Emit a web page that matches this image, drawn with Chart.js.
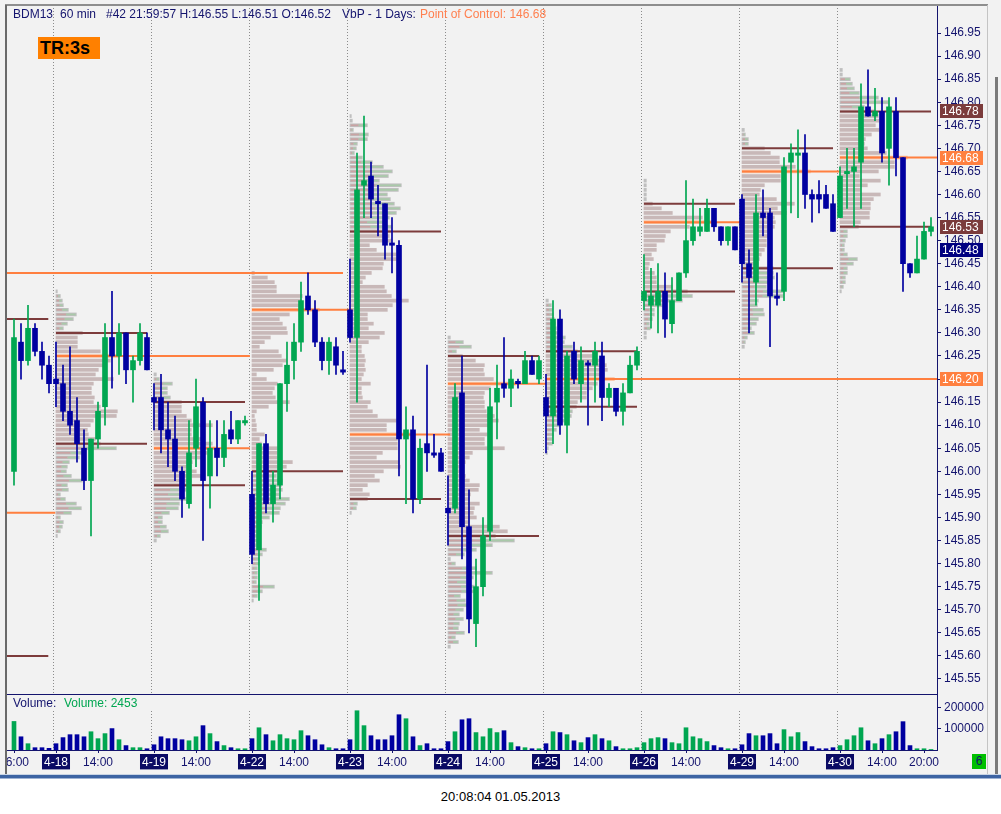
<!DOCTYPE html>
<html>
<head>
<meta charset="utf-8">
<script src="https://cdn.jsdelivr.net/npm/chart.js@4.4.1/dist/chart.umd.min.js"></script>
<style>
body{margin:0;width:1001px;height:814px;background:#fff;overflow:hidden;font-family:"Liberation Sans",Arial,sans-serif}
#panel{position:absolute;left:0;top:0;width:1001px;height:775px;background:#f2f2f2}
#wrap{position:absolute;left:0;top:0;width:1001px;height:775px}
.t{position:absolute;font-size:12px;line-height:14px;white-space:pre;color:#14146e}
.ln{position:absolute}
</style>
</head>
<body>
<div id="panel"></div>
<div id="wrap"><canvas id="chart"></canvas></div>

<div class="t" style="left:13px;top:7px">BDM13</div>
<div class="t" style="left:60px;top:7px">60 min</div>
<div class="t" style="left:106px;top:7px">#42 21:59:57 H:146.55 L:146.51 O:146.52</div>
<div class="t" style="left:342px;top:7px">VbP - 1 Days:</div>
<div class="t" style="left:420px;top:7px;color:#ff8050">Point of Control: 146.68</div>
<div class="t" style="left:38px;top:37px;width:62px;height:22px;background:#ff8000;color:#000;font-weight:bold;font-size:18px;line-height:22px;padding-left:2px;box-sizing:border-box">TR:3s</div>
<div class="t" style="left:13px;top:696px">Volume:</div>
<div class="t" style="left:64px;top:696px;color:#00a651">Volume: 2453</div>
<div class="t" style="left:972px;top:754px;width:14px;height:15px;background:#00c000;text-align:center;line-height:15px">6</div>
<div class="t" style="left:0;width:1001px;top:790px;text-align:center;color:#000;font-size:13px">20:08:04 01.05.2013</div>

<div class="ln" style="left:5px;top:4px;width:983px;height:2px;background:#8e8e8e"></div>
<div class="ln" style="left:5px;top:5px;width:2px;height:769px;background:#6a6a6a"></div>
<div class="ln" style="left:987px;top:5px;width:1px;height:769px;background:#c4c4c4"></div>
<div class="ln" style="left:995px;top:77px;width:3px;height:697px;background:#7a7a7a"></div>
<div class="ln" style="left:0;top:774px;width:1001px;height:1px;background:#c8d4e4"></div>
<div class="ln" style="left:0;top:775px;width:1001px;height:3px;background:#3d64a3"></div>
<div class="ln" style="left:0;top:778px;width:1001px;height:1px;background:#9fb3d3"></div>

<script>
// hourly bars, 08:00-21:00, index 0 = 4-17 16:00
const dayLabels = ['4-18', '4-19', '4-22', '4-23', '4-24', '4-25', '4-26', '4-29', '4-30'];
const dayStart = [6, 20, 34, 48, 62, 76, 90, 104, 118];

const opens = [
  146.00, 146.28, 146.24, 146.31, 146.26, 146.23,
  146.20, 146.19, 146.13, 146.11, 146.05, 145.98, 146.07, 146.14, 146.29, 146.25, 146.30, 146.22, 146.24, 146.29,
  146.16, 146.16, 146.09, 146.07, 146.00, 145.93, 146.05, 146.15, 145.99, 146.05, 146.03, 146.09, 146.07, 146.105,
  145.95, 145.83, 146.06, 145.93, 145.97, 146.19, 146.24, 146.28, 146.38, 146.35, 146.28, 146.24, 146.27, 146.22,
  146.35, 146.29, 146.62, 146.64, 146.585, 146.58, 146.495, 146.49, 146.07, 146.09, 145.94, 146.06, 146.04, 146.04,
  145.92, 145.92, 146.17, 145.88, 145.67, 145.75, 145.87, 146.15, 146.19, 146.18, 146.195, 146.19, 146.24, 146.20,
  146.16, 146.12, 146.33, 146.10, 146.26, 146.19, 146.235, 146.23, 146.25, 146.16, 146.18, 146.13, 146.17, 146.23,
  146.37, 146.36, 146.36, 146.39, 146.32, 146.37, 146.43, 146.50, 146.52, 146.52, 146.57, 146.53, 146.50, 146.53,
  146.59, 146.45, 146.41, 146.56, 146.56, 146.38, 146.39, 146.67, 146.685, 146.69, 146.60, 146.60, 146.60, 146.58,
  146.55, 146.645, 146.65, 146.67, 146.79, 146.77, 146.78, 146.70, 146.78, 146.68, 146.45, 146.43, 146.46, 146.52
];
const highs = [
  146.33, 146.32, 146.36, 146.32, 146.28, 146.25,
  146.28, 146.23, 146.27, 146.16, 146.09, 146.07, 146.15, 146.32, 146.39, 146.32, 146.30, 146.25, 146.32, 146.30,
  146.19, 146.21, 146.15, 146.12, 146.01, 146.11, 146.20, 146.16, 146.11, 146.11, 146.11, 146.13, 146.11, 146.12,
  146.00, 146.06, 146.08, 146.00, 146.19, 146.28, 146.32, 146.41, 146.43, 146.37, 146.29, 146.29, 146.29, 146.26,
  146.46, 146.69, 146.77, 146.67, 146.62, 146.58, 146.55, 146.50, 146.14, 146.12, 146.07, 146.23, 146.08, 146.05,
  145.99, 146.19, 146.25, 145.96, 145.81, 145.90, 146.18, 146.23, 146.29, 146.22, 146.20, 146.26, 146.25, 146.25,
  146.21, 146.37, 146.35, 146.26, 146.28, 146.27, 146.24, 146.28, 146.28, 146.19, 146.18, 146.19, 146.25, 146.27,
  146.47, 146.44, 146.45, 146.43, 146.42, 146.43, 146.63, 146.59, 146.57, 146.59, 146.57, 146.53, 146.53, 146.53,
  146.60, 146.48, 146.60, 146.61, 146.57, 146.43, 146.68, 146.71, 146.74, 146.73, 146.61, 146.63, 146.62, 146.60,
  146.66, 146.70, 146.70, 146.84, 146.87, 146.83, 146.81, 146.81, 146.81, 146.68, 146.45, 146.51, 146.54, 146.55
];
const lows = [
  145.97, 146.20, 146.23, 146.25, 146.20, 146.17,
  146.14, 146.11, 146.08, 146.02, 145.96, 145.86, 146.05, 146.10, 146.18, 146.21, 146.19, 146.15, 146.23, 146.22,
  146.09, 146.04, 146.01, 145.98, 145.90, 145.92, 146.01, 145.85, 145.92, 145.99, 146.01, 146.06, 146.06, 146.10,
  145.80, 145.72, 145.91, 145.89, 145.94, 146.13, 146.20, 146.26, 146.34, 146.27, 146.22, 146.21, 146.21, 146.21,
  146.28, 146.15, 146.55, 146.55, 146.51, 146.46, 146.43, 145.99, 145.93, 145.91, 145.93, 146.00, 146.03, 146.00,
  145.84, 145.91, 145.81, 145.65, 145.62, 145.73, 145.85, 146.07, 146.16, 146.14, 146.18, 146.19, 146.21, 146.19,
  146.04, 146.06, 146.08, 146.04, 146.19, 146.15, 146.10, 146.15, 146.11, 146.14, 146.12, 146.10, 146.17, 146.22,
  146.35, 146.31, 146.30, 146.29, 146.30, 146.37, 146.42, 146.49, 146.51, 146.52, 146.52, 146.49, 146.49, 146.48,
  146.41, 146.30, 146.36, 146.51, 146.27, 146.36, 146.37, 146.56, 146.55, 146.57, 146.54, 146.56, 146.57, 146.52,
  146.55, 146.57, 146.53, 146.57, 146.77, 146.76, 146.67, 146.62, 146.64, 146.39, 146.42, 146.43, 146.46, 146.51
];
const closes = [
  146.29, 146.24, 146.31, 146.26, 146.23, 146.19,
  146.19, 146.13, 146.10, 146.06, 145.98, 146.07, 146.13, 146.29, 146.25, 146.30, 146.22, 146.24, 146.30, 146.22,
  146.15, 146.09, 146.07, 146.00, 145.94, 146.04, 146.14, 145.98, 146.05, 146.03, 146.08, 146.07, 146.11, 146.11,
  145.82, 146.06, 145.93, 145.97, 146.19, 146.23, 146.28, 146.37, 146.35, 146.28, 146.24, 146.28, 146.23, 146.215,
  146.29, 146.61, 146.63, 146.59, 146.58, 146.49, 146.49, 146.07, 146.09, 145.94, 146.05, 146.04, 146.035, 146.00,
  145.91, 146.16, 145.88, 145.68, 145.75, 145.86, 146.14, 146.18, 146.18, 146.20, 146.19, 146.24, 146.21, 146.24,
  146.12, 146.33, 146.10, 146.25, 146.20, 146.24, 146.23, 146.26, 146.16, 146.18, 146.13, 146.17, 146.23, 146.26,
  146.39, 146.38, 146.39, 146.33, 146.37, 146.43, 146.50, 146.53, 146.53, 146.57, 146.53, 146.50, 146.53, 146.48,
  146.45, 146.42, 146.56, 146.55, 146.38, 146.375, 146.66, 146.69, 146.69, 146.60, 146.59, 146.59, 146.57, 146.52,
  146.64, 146.65, 146.66, 146.79, 146.77, 146.78, 146.69, 146.79, 146.68, 146.45, 146.43, 146.46, 146.52, 146.53
];
const volumes = [
  136000, 63000, 30000, 11000, 11000, 8000,
  30000, 59000, 73000, 73000, 63000, 87000, 54000, 78000, 102000, 49000, 21000, 11000, 11000, 6000,
  25000, 63000, 54000, 54000, 49000, 44000, 63000, 116000, 78000, 40000, 21000, 11000, 6000, 6000,
  54000, 106000, 73000, 44000, 73000, 54000, 49000, 92000, 68000, 49000, 25000, 11000, 6000, 6000,
  49000, 187000, 116000, 68000, 49000, 49000, 68000, 168000, 149000, 63000, 21000, 30000, 6000, 6000,
  40000, 87000, 144000, 149000, 83000, 63000, 102000, 83000, 92000, 35000, 16000, 11000, 6000, 6000,
  30000, 87000, 83000, 73000, 44000, 35000, 59000, 73000, 54000, 44000, 16000, 6000, 6000, 11000,
  35000, 54000, 59000, 54000, 35000, 30000, 106000, 63000, 54000, 40000, 21000, 11000, 6000, 6000,
  25000, 78000, 68000, 68000, 78000, 30000, 97000, 63000, 83000, 40000, 16000, 6000, 6000, 11000,
  21000, 49000, 68000, 106000, 44000, 30000, 54000, 73000, 87000, 135000, 21000, 6000, 6000, 2453
];

// volume-at-price levels per day
const vaHigh = [146.30, 146.15, 146.43, 146.52, 146.25, 146.26, 146.58, 146.70, 146.78];
const pocLevel = [146.25, 146.05, 146.35, 146.08, 146.19, 146.20, 146.54, 146.65, 146.68];
const vaLow = [146.06, 145.97, 146.00, 145.94, 145.86, 146.14, 146.39, 146.44, 146.53];
const pocEnd = [33.7, 33.7, 48.3, 62.3, 76, 131.9, 103.9, 118, 131.9];
// levels carried in from the days left of the screen
const priorPoc = [146.43, 145.91];
const priorPocEnd = [47, 5.9];
const priorVa = [146.33, 145.60];
const priorVaEnd = [4.9, 4.9];

// profile rows, one per 0.01 from the day's high down
const profileTop = [146.39, 146.21, 146.43, 146.77, 146.29, 146.37, 146.63, 146.74, 146.87];
const prof0418 = [2,5,7,8,13,21,18,12,8,27, 22,22,22,45,64,55,48,43,40,58, 38,36,36,39,38,45,62,61,38,35,
  32,33,40,45,61,30,24,14,12,11, 16,27,12,13,5,10,21,26,16,5, 8,7,5,2];
const prof0419 = [3,6,19,14,14,17,28,28,28,33, 38,59,38,38,49,59,62,54,48,39, 38,43,49,38,33,33,29,33,26,25,
  16,9,9,13,15,7,3];
const prof0422 = [3,16,23,25,25,51,50,50,68,38, 28,31,35,36,19,13,8,27,30,35, 31,22,5,15,26,23,21,24,38,17,
  5,3,4,5,5,13,8,10,26,26, 26,41,35,26,25,31,30,31,28,38, 34,29,28,18,11,10,8,6,6,5,
  15,11,8,8,6,6,6,5,23,11, 6,2];
const prof0423 = [2,3,18,4,19,18,8,7,5,13, 23,34,43,39,30,52,49,38,41,45, 51,47,40,35,42,41,40,42,20,27,
  47,47,34,33,22,16,13,35,37,42, 59,43,38,18,18,24,19,35,30,19, 12,12,15,16,15,16,14,12,21,12,
  12,13,21,18,23,28,47,37,37,62, 48,48,48,33,27,50,51,34,25,30, 18,13,20,18,8,7,2];
const prof0424 = [3,16,24,9,15,28,37,36,37,46, 68,43,37,36,37,37,39,47,51,43, 32,40,37,37,57,25,22,18,17,17,
  18,22,32,31,23,22,32,27,26,29, 22,52,60,48,67,45,29,17,3,8, 29,45,26,19,27,28,13,18,20,16,
  12,16,12,11,17,8,11,3];
const prof0425 = [3,6,7,8,9,10,11,12,20,19, 27,32,47,56,61,62,59,69,52,47, 41,41,32,31,27,26,19,14,11,8,
  7,7,3,2];
const prof0426 = [3,3,3,3,3,9,18,29,59,69, 46,27,22,21,13,13,8,10,6,5, 11,13,13,29,44,49,39,19,11,11,
  9,6,7,3,3];
const prof0429 = [3,4,7,7,23,29,38,38,54,69, 39,39,23,19,18,35,53,36,45,33, 34,33,27,27,25,25,23,20,18,17,
  32,32,33,27,25,43,42,17,16,22, 23,17,15,10,13,6,4,3];
const prof0430 = [3,3,11,13,15,20,39,49,25,35, 39,40,36,40,32,26,25,28,47,68, 55,55,39,20,41,28,21,41,34,31,
  31,30,30,21,19,8,8,6,5,5, 8,18,14,8,8,6,6,4,2];
const profiles = [prof0418, prof0419, prof0422, prof0423, prof0424, prof0425, prof0426, prof0429, prof0430];

const priceTicks = [145.55, 145.60, 145.65, 145.70, 145.75, 145.80, 145.85, 145.90, 145.95, 146.00,
  146.05, 146.10, 146.15, 146.20, 146.25, 146.30, 146.35, 146.40, 146.45, 146.50,
  146.55, 146.60, 146.65, 146.70, 146.75, 146.80, 146.85, 146.90, 146.95];
const volumeTicks = [100000, 200000];
const markerPrices = [146.78, 146.68, 146.53, 146.48, 146.20];
const markerColors = ['#7b3b3b', '#ff8040', '#7b3b3b', '#000080', '#ff8040'];

const NAVY = '#14146e';
const UP = '#00a651';
const DOWN = '#0000a0';
const FONT = '"Liberation Sans", Arial, sans-serif';
const profileUnitsPerBar = 7;

// x tick positions and their labels
const xTickLabels = {0: '16:00'};
dayStart.forEach((s, k) => { xTickLabels[s] = dayLabels[k]; xTickLabels[s + 6] = '14:00'; });
xTickLabels[130] = '20:00';
const isDateTick = v => dayStart.includes(v);

const colors = opens.map((o, i) => closes[i] > o ? UP : DOWN);
const bodies = opens.map((o, i) => ({x: i, y: [o, closes[i]]}));
const wicks = lows.map((l, i) => ({x: i, y: [l, highs[i]]}));
const vols = volumes.map((v, i) => ({x: i, y: v}));

function segments(levels, starts, ends) {
  const pts = [];
  levels.forEach((v, i) => {
    pts.push({x: starts[i], y: v}, {x: ends[i], y: v}, {x: ends[i], y: null});
  });
  return pts;
}
const dayEnd = dayStart.map(s => s + 13);
const brownPts = segments(priorVa, [-1, -1], priorVaEnd)
  .concat(segments(vaHigh, dayStart, dayEnd), segments(vaLow, dayStart, dayEnd));
const orangePts = segments(priorPoc, [-1, -1], priorPocEnd)
  .concat(segments(pocLevel, dayStart, pocEnd));

function zeroPad(s) { s.paddingLeft = 0; s.paddingRight = 0; s.paddingTop = 0; s.paddingBottom = 0; }

const profilePlugin = {
  id: 'profile',
  afterLayout(chart) {
    // volume axis shares the price axis column; give its labels room
    const yv = chart.scales.yv;
    yv.right = yv.left + 64;
  },
  beforeDatasetsDraw(chart) {
    const {ctx, chartArea: a} = chart;
    const x = chart.scales.x, y = chart.scales.y;
    ctx.save();
    ctx.beginPath();
    ctx.rect(a.left, a.top, a.right - a.left, a.bottom - a.top);
    ctx.clip();
    // day separators
    ctx.strokeStyle = '#8c8c8c';
    ctx.lineWidth = 1;
    ctx.setLineDash([1, 2]);
    dayStart.forEach(s => {
      const px = Math.round(x.getPixelForValue(s - 0.43)) + 0.5;
      ctx.beginPath();
      ctx.moveTo(px, a.top); ctx.lineTo(px, 693);
      ctx.moveTo(px, 711); ctx.lineTo(px, a.bottom);
      ctx.stroke();
    });
    ctx.setLineDash([]);
    // volume profiles
    profiles.forEach((rows, d) => {
      const x0 = x.getPixelForValue(dayStart[d] - 0.05);
      rows.forEach((w, r) => {
        const p = Math.round(profileTop[d] * 100 - r) / 100;
        const yt = y.getPixelForValue(p + 0.004);
        const yb = y.getPixelForValue(p - 0.004);
        const x1 = x.getPixelForValue(dayStart[d] - 0.05 + w / profileUnitsPerBar);
        const h = yb - yt, wd = x1 - x0;
        if (Math.abs(p - pocLevel[d]) < 0.001) {
          ctx.fillStyle = '#f9c1a1';
          ctx.fillRect(x0, yt, wd, h);
        } else if (p <= vaHigh[d] + 0.0001 && p >= vaLow[d] - 0.0001) {
          ctx.fillStyle = '#c8b8b8';
          ctx.fillRect(x0, yt, wd, h);
        } else {
          ctx.fillStyle = '#bfbfbf';
          ctx.fillRect(x0, yt, wd, h);
          if (wd > 4) {
            const split = (wd - 2) * 0.5;
            ctx.fillStyle = '#c9a3a3';
            ctx.fillRect(x0 + 1, yt + 1, split, h - 2);
            ctx.fillStyle = '#a9c9a9';
            ctx.fillRect(x0 + 1 + split, yt + 1, wd - 2 - split, h - 2);
          }
        }
      });
    });
    ctx.restore();
  },
  afterDraw(chart) {
    const {ctx, chartArea: a} = chart;
    const y = chart.scales.y;
    ctx.save();
    // volume pane separator
    ctx.strokeStyle = NAVY;
    ctx.lineWidth = 1;
    ctx.beginPath();
    ctx.moveTo(a.left, 694.5); ctx.lineTo(a.right, 694.5);
    ctx.stroke();
    // price markers on the axis
    ctx.font = '12px ' + FONT;
    ctx.textBaseline = 'middle';
    markerPrices.forEach((p, i) => {
      const py = Math.round(y.getPixelForValue(p));
      ctx.fillStyle = markerColors[i];
      ctx.fillRect(a.right + 3, py - 7, 43, 14);
      ctx.fillStyle = '#ffffff';
      ctx.fillText(p.toFixed(2), a.right + 5, py + 1);
    });
    // hide the clipped first time label behind the frame
    ctx.fillStyle = '#f2f2f2';
    ctx.fillRect(0, a.bottom + 1, 6, 30);
    ctx.restore();
  }
};

new Chart(document.getElementById('chart'), {
  type: 'bar',
  data: {
    datasets: [
      {type: 'line', data: brownPts, borderColor: '#7d3c3c', borderWidth: 2, pointRadius: 0, spanGaps: false, order: 4, yAxisID: 'y'},
      {type: 'line', data: orangePts, borderColor: '#ff7f3f', borderWidth: 2, pointRadius: 0, spanGaps: false, order: 3, yAxisID: 'y'},
      {data: wicks, backgroundColor: colors, barThickness: 1, grouped: false, order: 2, yAxisID: 'y'},
      {data: bodies, backgroundColor: colors, barThickness: 5, minBarLength: 1, grouped: false, order: 1, yAxisID: 'y'},
      {data: vols, backgroundColor: colors, barThickness: 4, grouped: false, order: 1, yAxisID: 'yv'}
    ]
  },
  options: {
    responsive: true,
    maintainAspectRatio: false,
    devicePixelRatio: 1,
    animation: false,
    events: [],
    layout: {padding: {left: 7, top: 5, right: 0, bottom: 0}},
    plugins: {legend: {display: false}, tooltip: {enabled: false}},
    scales: {
      x: {
        type: 'linear', min: -1, max: 131.857, offset: false,
        grid: {display: true, drawOnChartArea: false, drawTicks: true, tickLength: 3, color: NAVY, offset: false},
        border: {display: true, color: NAVY},
        afterBuildTicks: s => { s.ticks = Object.keys(xTickLabels).map(Number).sort((a, b) => a - b).map(v => ({value: v})); },
        afterFit: s => { s.height = 25; zeroPad(s); },
        ticks: {
          autoSkip: false, maxRotation: 0, minRotation: 0, padding: 2,
          font: {family: FONT, size: 12},
          color: c => isDateTick(c.tick.value) ? '#ffffff' : NAVY,
          showLabelBackdrop: c => isDateTick(c.tick.value),
          backdropColor: '#0a0a64',
          backdropPadding: {top: 1, bottom: 0, left: 2, right: 2},
          callback: v => xTickLabels[v] || ''
        }
      },
      y: {
        type: 'linear', position: 'right', weight: 1, min: 145.396, max: 147.0107,
        grid: {display: true, drawOnChartArea: false, drawTicks: true, tickLength: 4, color: NAVY},
        border: {display: true, color: NAVY},
        afterBuildTicks: s => { s.ticks = priceTicks.map(v => ({value: v})); },
        afterFit: s => { s.width = 64; zeroPad(s); },
        ticks: {font: {family: FONT, size: 12}, color: NAVY, padding: 3, callback: v => v.toFixed(2)}
      },
      yv: {
        type: 'linear', position: 'right', weight: 0, min: 0, max: 3547619,
        grid: {display: true, drawOnChartArea: false, drawTicks: true, tickLength: 4, color: NAVY},
        border: {display: false},
        afterBuildTicks: s => { s.ticks = volumeTicks.map(v => ({value: v})); },
        afterFit: s => { s.width = 0; zeroPad(s); },
        ticks: {autoSkip: false, font: {family: FONT, size: 12}, color: NAVY, padding: 3, callback: v => String(v)}
      }
    }
  },
  plugins: [profilePlugin]
});
</script>
</body>
</html>
